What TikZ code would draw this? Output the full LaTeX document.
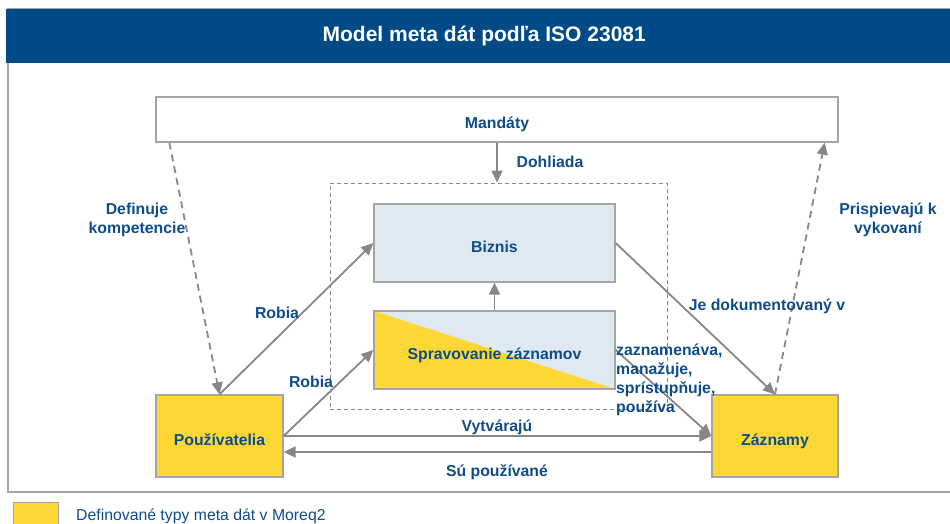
\documentclass[tikz,border=0pt]{standalone}
\usepackage{fontspec}
\setmainfont{Liberation Sans}
\usetikzlibrary{arrows.meta,calc}
\definecolor{bandblue}{RGB}{0,74,135}
\definecolor{txtblue}{RGB}{14,76,138}
\definecolor{ylw}{RGB}{253,216,53}
\definecolor{lblue}{RGB}{223,233,242}
\definecolor{lgray}{RGB}{165,165,165}
\definecolor{agray}{RGB}{135,135,135}
\newcommand{\ctxt}[1]{\raisebox{-9pt}[0pt][0pt]{#1}}
\tikzset{
  box/.style={draw=lgray, line width=1.3pt, inner sep=0pt, text=txtblue,
    font=\bfseries\fontsize{15.8}{19}\selectfont},
  lbl/.style={text=txtblue, font=\bfseries\fontsize{15.8}{19}\selectfont, inner sep=0pt, align=center},
  arr/.style={draw=agray, line width=1.8pt, -{Triangle[length=12pt,width=11pt]}},
  darr/.style={arr, dash pattern=on 7pt off 5pt},
}
\begin{document}
\begin{tikzpicture}[x=1pt,y=-1pt]
\useasboundingbox (0,0) rectangle (950,524);
\clip (0,0) rectangle (950,524);
% frame and title band
\draw[lgray, line width=1.2pt] (8,9) rectangle (970,492);
\node (title) [fill=bandblue, minimum width=962pt, minimum height=54pt, inner sep=0pt, anchor=north west,
  text=white, font=\bfseries\fontsize{21}{24}\selectfont] at (6,9) {\hspace*{-6pt}Model meta dát podľa ISO 23081};
% nodes
\node (mand) [box, fill=white, minimum width=682pt, minimum height=45pt] at (497,119.5) {\ctxt{Mandáty}};
\node (dash) [draw=agray, line width=0.9pt, dash pattern=on 4pt off 3pt, minimum width=337pt, minimum height=226pt] at (498.5,296) {};
\node (biz) [box, fill=lblue, minimum width=241pt, minimum height=78pt] at (494.5,243) {\ctxt{Biznis}};
\node (sprav) [box, fill=lblue, minimum width=241pt, minimum height=78pt,
  path picture={\fill[ylw] (path picture bounding box.north west) -- (path picture bounding box.south east) -- (path picture bounding box.south west) -- cycle;}]
  at (494.5,350) {\ctxt{Spravovanie záznamov}};
\node (pouz) [box, fill=ylw, minimum width=127pt, minimum height=82pt] at (219.5,436) {\ctxt{Používatelia}};
\node (zazn) [box, fill=ylw, minimum width=126pt, minimum height=82pt] at (775,436) {\ctxt{Záznamy}};
% connectors
\draw[arr] (mand.south) -- (mand.south |- dash.north);
\coordinate (mandL) at ($(mand.south west)+(14,0)$);
\coordinate (mandR) at ($(mand.south east)+(-14,0)$);
\draw[darr] (mandL) -- (pouz.north);
\draw[arr] (pouz.north) -- (biz.west);
\draw[arr] (pouz.east) -- (sprav.west);
\draw[arr] (sprav.north) -- (biz.south);
\draw[arr] (pouz.east) -- (zazn.west);
\draw[arr] ($(zazn.west)+(0,16)$) -- ($(pouz.east)+(0,16)$);
\draw[arr] (biz.east) -- (zazn.north);
\draw[arr] (sprav.east) -- (zazn.west);
\draw[darr] (zazn.north) -- (mandR);
% labels
\node (l1) [lbl] at (550,162) {Dohliada};
\node (l2) [lbl] at (137,220) {Definuje\\kompetencie};
\node (l3) [lbl] at (277,313) {Robia};
\node (l4) [lbl] at (311,382) {Robia};
\node (l5) [lbl] at (767,306) {Je dokumentovaný v};
\node (l6) [lbl, align=left, anchor=north west] at (616,344) {zaznamenáva,\\manažuje,\\sprístupňuje,\\používa};
\node (l7) [lbl] at (888,220) {Prispievajú k\\vykovaní};
\node (l8) [lbl] at (497,427) {Vytvárajú};
\node (l9) [lbl] at (497,472) {Sú používané};
% legend
\node (leg) [draw=lgray, line width=1.2pt, fill=ylw, minimum width=45pt, minimum height=30pt, anchor=north west, inner sep=0pt] at (13,502) {};
\node (legt) [anchor=west, text=txtblue, font=\fontsize{15.8}{19}\selectfont, inner sep=0pt] at (76,516.5) {Definované typy meta dát v Moreq2};
\end{tikzpicture}
\end{document}
